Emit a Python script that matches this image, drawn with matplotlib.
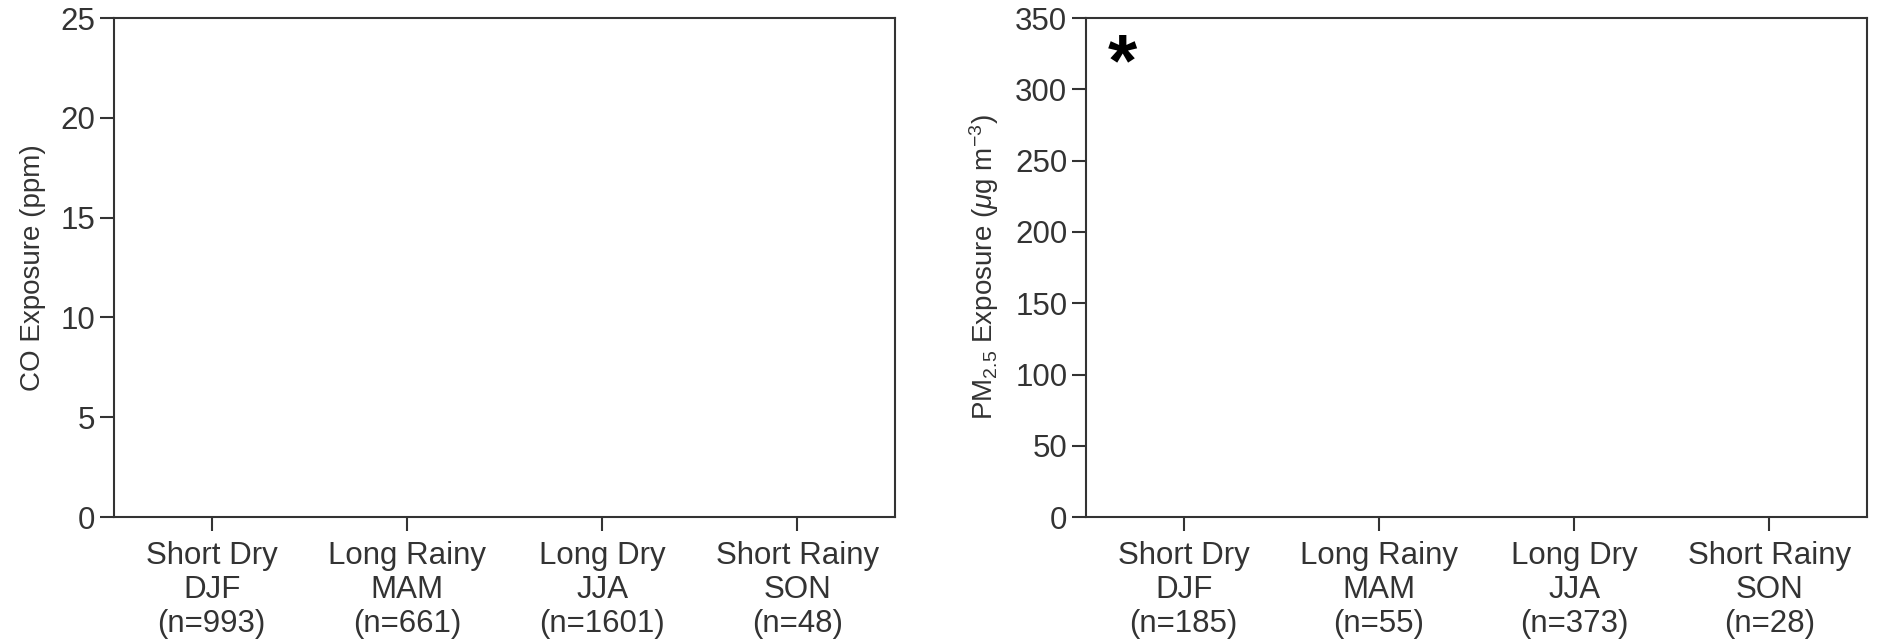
import matplotlib
matplotlib.use("Agg")
import matplotlib.pyplot as plt

plt.rcParams['font.family'] = ['Liberation Sans', 'DejaVu Sans']
plt.rcParams['mathtext.fontset'] = 'custom'
plt.rcParams['mathtext.rm'] = 'Liberation Sans'
plt.rcParams['mathtext.it'] = 'Liberation Sans:italic'

# seasons and sample sizes for each panel
seasons = ["Short Dry\nDJF", "Long Rainy\nMAM", "Long Dry\nJJA", "Short Rainy\nSON"]
n_co = [993, 661, 1601, 48]
n_pm = [185, 55, 373, 28]

co_ticks = [0, 5, 10, 15, 20, 25]
pm_ticks = [0, 50, 100, 150, 200, 250, 300, 350]

grey = "#333333"

fig = plt.figure(figsize=(18.78, 6.44), dpi=100)
ax1 = fig.add_axes([0.0607, 0.197, 0.4159, 0.775])
ax2 = fig.add_axes([0.5783, 0.197, 0.4159, 0.775])

def style(ax, ns, ticks, ylabel):
    ax.set_xlim(-0.5, 3.5)
    ax.set_ylim(ticks[0], ticks[-1])
    ax.set_yticks(ticks)
    ax.set_xticks(range(len(seasons)))
    ax.set_xticklabels([f"{s}\n(n={n})" for s, n in zip(seasons, ns)],
                       linespacing=1.17)
    ax.tick_params(axis="both", labelsize=22.5, colors=grey, length=10, width=1.5,
                   direction="out")
    ax.tick_params(axis="x", pad=7)
    for sp in ax.spines.values():
        sp.set_color(grey)
        sp.set_linewidth(1.5)
    ax.set_ylabel(ylabel, fontsize=20, color=grey, labelpad=10)

style(ax1, n_co, co_ticks, "CO Exposure (ppm)")
style(ax2, n_pm, pm_ticks, r"PM$_{2.5}$ Exposure ($\mu$g m$^{-3}$)")

ax2.text(0.047, 0.905, "*", transform=ax2.transAxes, fontsize=54, fontweight="bold",
         ha="center", va="center", color="black")

fig.savefig("out.png", dpi=100)
